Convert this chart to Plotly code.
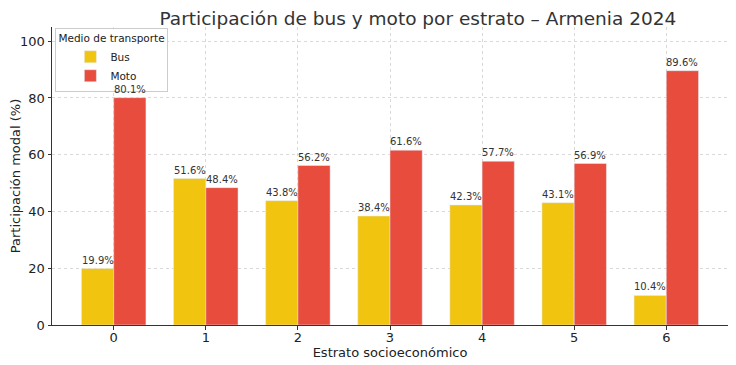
import plotly.graph_objects as go

estratos = [0, 1, 2, 3, 4, 5, 6]
bus = [19.9, 51.6, 43.8, 38.4, 42.3, 43.1, 10.4]
moto = [80.1, 48.4, 56.2, 61.6, 57.7, 56.9, 89.6]

BAR_W = 0.35

fig = go.Figure()
fig.add_trace(go.Bar(x=estratos, y=bus, name="Bus", marker_color="#F1C40F",
                     width=BAR_W, offset=-BAR_W))
fig.add_trace(go.Bar(x=estratos, y=moto, name="Moto", marker_color="#E74C3C",
                     width=BAR_W, offset=0))

# value labels above bars (annotations so they sit above the legend layer)
for xs, vals, shift in ((estratos, bus, -BAR_W / 2), (estratos, moto, BAR_W / 2)):
    for xv, v in zip(xs, vals):
        fig.add_annotation(x=xv + shift, y=v, text=f"{v:.1f}%", showarrow=False,
                           xref="x", yref="y", yanchor="bottom", yshift=1,
                           font=dict(size=10, color="#333333"))

# page body adds an 8px offset: size the figure to compensate
fig.update_layout(
    width=728, height=357,
    margin=dict(l=44, r=8, t=19, b=40, autoexpand=False),
    paper_bgcolor="white", plot_bgcolor="white",
    barmode="overlay",
    font=dict(family="DejaVu Sans", color="#222222"),
    title=dict(text="Participación de bus y moto por estrato – Armenia 2024",
               x=0.563, xanchor="center", y=0.97, yanchor="middle",
               font=dict(size=18.5, color="#333333")),
    legend=dict(title=dict(text="Medio de transporte", font=dict(size=10.5)),
                x=0.005, y=0.998, xanchor="left", yanchor="top",
                bgcolor="rgba(255,255,255,0.9)", bordercolor="#cccccc", borderwidth=1,
                font=dict(size=10.5), tracegroupgap=0, itemwidth=30, indentation=14),
    xaxis=dict(range=[-0.67, 6.67], tickmode="array", tickvals=estratos,
               ticktext=[str(e) for e in estratos], automargin=False,
               showgrid=True, gridcolor="#d9d9d9", griddash="dot",
               showline=True, linecolor="#333333", linewidth=1,
               ticks="outside", ticklen=3.5, tickcolor="#333333",
               tickfont=dict(size=13), ticklabelstandoff=-3,
               title=dict(text="Estrato socioeconómico", font=dict(size=13), standoff=0),
               zeroline=False),
    yaxis=dict(range=[0, 105], tickvals=[0, 20, 40, 60, 80, 100], automargin=False,
               showgrid=True, gridcolor="#d9d9d9", griddash="dot",
               showline=True, linecolor="#333333", linewidth=1,
               ticks="outside", ticklen=3.5, tickcolor="#333333",
               tickfont=dict(size=13),
               title=dict(text="Participación modal (%)", font=dict(size=13), standoff=7),
               zeroline=False),
)

fig.write_html("out.html")
